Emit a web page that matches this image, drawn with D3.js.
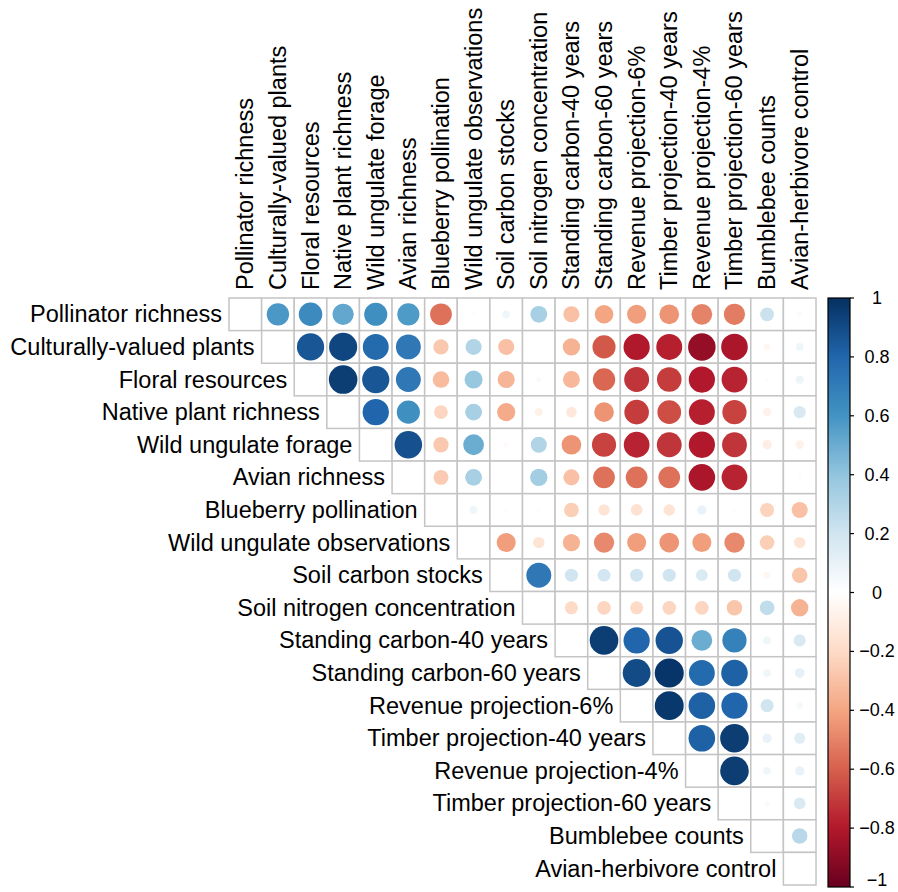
<!DOCTYPE html>
<html>
<head>
<meta charset="utf-8">
<script src="https://cdn.jsdelivr.net/npm/d3@7"></script>
<style>
  body { margin: 0; background: #fff; }
  text { font-family: "Liberation Sans", Arial, Helvetica, sans-serif; fill: #000; }
</style>
</head>
<body>
<script>
// variable names, in matrix order
const variables = [
  "Pollinator richness", "Culturally-valued plants", "Floral resources",
  "Native plant richness", "Wild ungulate forage", "Avian richness",
  "Blueberry pollination", "Wild ungulate observations", "Soil carbon stocks",
  "Soil nitrogen concentration", "Standing carbon-40 years", "Standing carbon-60 years",
  "Revenue projection-6%", "Timber projection-40 years", "Revenue projection-4%",
  "Timber projection-60 years", "Bumblebee counts", "Avian-herbivore control"
];

// upper triangle: row i holds r(i, j) for j = i+1 .. 17
const upper = [
  [0.58, 0.64, 0.52, 0.62, 0.57, -0.55, 0.02, 0.07, 0.33, -0.3, -0.4, -0.42, -0.45, -0.5, -0.52, 0.22, -0.03],
  [0.86, 0.92, 0.78, 0.72, -0.27, 0.3, -0.3, 0.01, -0.35, -0.62, -0.8, -0.78, -0.88, -0.82, -0.05, 0.07],
  [0.95, 0.86, 0.72, -0.32, 0.38, -0.34, 0.03, -0.33, -0.58, -0.72, -0.7, -0.8, -0.77, -0.02, 0.08],
  [0.8, 0.62, -0.22, 0.33, -0.38, -0.08, -0.13, -0.45, -0.7, -0.65, -0.78, -0.68, -0.08, 0.17],
  [0.88, -0.27, 0.5, -0.03, 0.3, -0.45, -0.68, -0.77, -0.72, -0.8, -0.72, -0.1, -0.08],
  [-0.26, 0.33, 0.01, 0.35, -0.3, -0.55, -0.55, -0.55, -0.82, -0.77, -0.01, -0.02],
  [0.07, -0.02, -0.02, -0.25, -0.15, -0.16, -0.15, 0.1, -0.02, -0.23, -0.3],
  [-0.42, -0.15, -0.35, -0.48, -0.42, -0.45, -0.42, -0.48, -0.25, -0.15],
  [0.72, 0.2, 0.19, 0.2, 0.2, 0.16, 0.2, -0.05, -0.28],
  [-0.2, -0.22, -0.2, -0.22, -0.22, -0.28, 0.25, -0.35],
  [0.95, 0.8, 0.87, 0.5, 0.68, 0.07, 0.17],
  [0.9, 0.98, 0.78, 0.82, 0.07, 0.11],
  [0.97, 0.82, 0.8, 0.2, 0.05],
  [0.82, 0.95, 0.1, 0.14],
  [0.95, 0.07, 0.1],
  [0.03, 0.16],
  [0.28],
  []
];

const legendTicks = [1, 0.8, 0.6, 0.4, 0.2, 0, -0.2, -0.4, -0.6, -0.8, -1];

const palette = ["#67001F", "#B2182B", "#D6604D", "#F4A582", "#FDDBC7", "#FFFFFF",
                 "#D1E5F0", "#92C5DE", "#4393C3", "#2166AC", "#053061"];

const W = 898, H = 892;
const gridLeft = 229, gridTop = 298, gridSize = 587;

const svg = d3.select("body").append("svg")
  .attr("width", W).attr("height", H);

// piecewise linear ramp, like colorRampPalette
const color = d3.scaleLinear()
  .domain(d3.range(palette.length).map(i => -1 + i * 2 / (palette.length - 1)))
  .range(palette)
  .clamp(true);

const x = d3.scaleBand().domain(variables).range([gridLeft, gridLeft + gridSize]);
const y = d3.scaleBand().domain(variables).range([gridTop, gridTop + gridSize]);
const cell = x.bandwidth();

// cells incl. diagonal
const cells = [];
variables.forEach((rv, i) => {
  cells.push({ row: rv, col: rv, r: null });
  upper[i].forEach((r, k) => cells.push({ row: rv, col: variables[i + 1 + k], r }));
});

svg.append("g").selectAll("rect")
  .data(cells)
  .join("rect")
  .attr("x", d => x(d.col))
  .attr("y", d => y(d.row))
  .attr("width", cell)
  .attr("height", cell)
  .attr("fill", "#fff")
  .attr("stroke", "#c4c4c4")
  .attr("stroke-width", 1.5);

svg.append("g").selectAll("circle")
  .data(cells.filter(d => d.r !== null))
  .join("circle")
  .attr("cx", d => x(d.col) + cell / 2)
  .attr("cy", d => y(d.row) + cell / 2)
  .attr("r", d => 0.45 * Math.sqrt(Math.abs(d.r)) * cell)
  .attr("fill", d => color(d.r));

// row labels, ending just left of the diagonal cell
svg.append("g").selectAll("text")
  .data(variables)
  .join("text")
  .attr("x", d => x(d) - 7)
  .attr("y", d => y(d) + cell / 2)
  .attr("text-anchor", "end")
  .attr("dominant-baseline", "central")
  .style("font-size", "23.5px")
  .text(d => d);

// column labels, vertical
svg.append("g").selectAll("text")
  .data(variables)
  .join("text")
  .attr("transform", d => `translate(${x(d) + cell / 2},${gridTop - 8}) rotate(-90)`)
  .attr("dominant-baseline", "central")
  .style("font-size", "23.5px")
  .text(d => d);

// colour bar
const barX = 828, barW = 22;
const cy = d3.scaleLinear().domain([-1, 1]).range([887, 298]);

const grad = svg.append("defs").append("linearGradient")
  .attr("id", "cbar").attr("x1", 0).attr("x2", 0).attr("y1", 1).attr("y2", 0);
grad.selectAll("stop")
  .data(d3.range(0, 1.0001, 0.025))
  .join("stop")
  .attr("offset", d => `${d * 100}%`)
  .attr("stop-color", d => color(d * 2 - 1));

svg.append("rect")
  .attr("x", barX).attr("y", cy(1))
  .attr("width", barW).attr("height", cy(-1) - cy(1))
  .attr("fill", "url(#cbar)")
  .attr("stroke", "#000").attr("stroke-width", 1.2);

const fmt = d3.format(".1~f");
const legend = svg.append("g");
legend.selectAll("line")
  .data(legendTicks)
  .join("line")
  .attr("x1", barX + barW).attr("x2", barX + barW + 4)
  .attr("y1", d => cy(d)).attr("y2", d => cy(d))
  .attr("stroke", "#000").attr("stroke-width", 1.2);
legend.selectAll("text")
  .data(legendTicks)
  .join("text")
  .attr("x", 877)
  .attr("y", d => Math.min(cy(d), 880))
  .attr("text-anchor", "middle")
  .attr("dominant-baseline", "central")
  .style("font-size", "18px")
  .text(d => fmt(d));
</script>
</body>
</html>
